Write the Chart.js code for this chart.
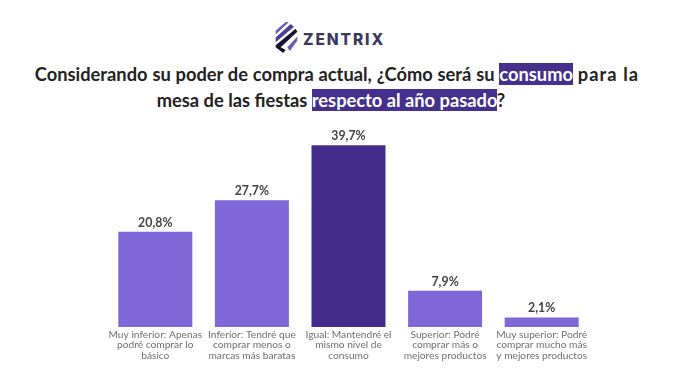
<!DOCTYPE html>
<html>
<head>
<meta charset="utf-8">
<script src="https://cdn.jsdelivr.net/npm/chart.js@4"></script>
<style>
  html, body { margin: 0; padding: 0; background: #fff; width: 696px; height: 384px; overflow: hidden; }
  #chart { position: absolute; left: 0; top: 0; }
  #logo { position: absolute; left: 274px; top: 21px; }
  #brand { position: absolute; left: 303px; top: 30px; font: 800 15.5px Inter, sans-serif; letter-spacing: 1.9px; color: #3b3860; }
  #title { position: absolute; left: 0; top: 61px; width: 674px; text-align: center; font: 700 18.3px/26px Lato, sans-serif; color: #222; }
  #title div:first-child { word-spacing: 0.4px; }
  #title div:last-child { position: relative; left: -6px; }
  #title span { background: #46308e; color: #fff; }
  #title em { font-style: normal; letter-spacing: 1px; }
</style>
</head>
<body>
<svg id="logo" width="25" height="33" viewBox="0 0 30 34" preserveAspectRatio="none">
  <path d="M2 10 L14 1 L18 1 L2 14 Z" fill="#6a5bb0"/>
  <path d="M2 17 L20 3 L24 6 L2 22 Z" fill="#4a3f96"/>
  <path d="M2 25 L26 8 L28 11 L8 27 L14 30 L11 33 L2 27 Z" fill="#15132b"/>
  <path d="M16 27 L28 16 L28 20 L19 31 Z" fill="#6a5bb0"/>
</svg>
<div id="brand">ZENTRIX</div>
<div id="title">
  <div>Considerando su poder de compra actual, ¿Cómo será su <span>consumo</span> <em>para la</em></div>
  <div>mesa de las fiestas <span>respecto al año pasado</span>?</div>
</div>
<canvas id="chart" width="696" height="384"></canvas>
<script>
const categories = [
  ["Muy inferior: Apenas", "podré comprar lo", "básico"],
  ["Inferior: Tendré que", "comprar menos o", "marcas más baratas"],
  ["Igual: Mantendré el", "mismo nivel de", "consumo"],
  ["Superior: Podré", "comprar más o", "mejores productos"],
  ["Muy superior: Podré", "comprar mucho más", "y mejores productos"]
];
const shares = [20.8, 27.7, 39.7, 7.9, 2.1];
const barColors = ["#8067d8", "#8067d8", "#432c8c", "#8067d8", "#8067d8"];

// value labels above the bars, comma as decimal mark
const valueLabels = {
  id: "valueLabels",
  afterDatasetsDraw(chart) {
    const { ctx } = chart;
    ctx.save();
    ctx.font = "700 12.3px Lato, sans-serif";
    ctx.fillStyle = "#444";
    ctx.textAlign = "center";
    ctx.textBaseline = "bottom";
    chart.getDatasetMeta(0).data.forEach((bar, i) => {
      ctx.fillText(shares[i].toFixed(1).replace(".", ",") + "%", bar.x, bar.y - 3);
    });
    ctx.restore();
  }
};

new Chart(document.getElementById("chart").getContext("2d"), {
  type: "bar",
  data: {
    labels: categories,
    datasets: [{ data: shares, backgroundColor: barColors, barPercentage: 0.766, categoryPercentage: 1 }]
  },
  options: {
    responsive: false,
    animation: false,
    layout: { padding: { left: 107, right: 106, top: 144, bottom: 0 } },
    plugins: { legend: { display: false }, tooltip: { enabled: false } },
    scales: {
      x: {
        grid: { display: false, drawTicks: false },
        border: { display: false },
        afterFit(axis) { axis.height = 57; },
        ticks: {
          maxRotation: 0,
          autoSkip: false,
          padding: 2,
          color: "#707070",
          font: { family: "Lato, sans-serif", size: 10.2, lineHeight: 1.04 }
        }
      },
      y: { display: false, min: 0, max: 40 }
    }
  },
  plugins: [valueLabels]
});
</script>
</body>
</html>
